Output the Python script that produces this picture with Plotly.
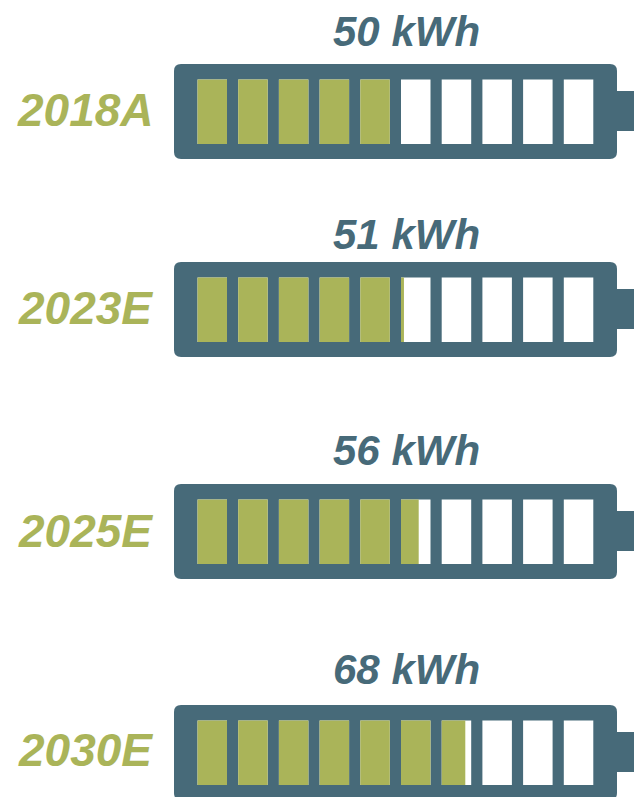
import plotly.graph_objects as go

# ---- data ----
years = ["2018A", "2023E", "2025E", "2030E"]
capacity_kwh = [50, 51, 56, 68]
capacity_labels = [f"{v} kWh" for v in capacity_kwh]
kwh_per_cell = 10
n_cells = 10

# ---- layout / style ----
W, H = 634, 797
body_color = "#476A79"
fill_color = "#AAB459"
year_color = "#AAB459"
label_color = "#476A79"

battery_tops = [64, 262, 484, 705]
label_gaps = [33, 28, 34, 36]      # distance of the kWh label above each battery
year_offsets = [46, 46, 47, 45]    # year label centre below the battery top
body_left, body_right, body_h, radius = 174, 617, 95, 7
cell_x0, cell_pitch, cell_w = 197.5, 40.7, 29.5
cell_top_off, cell_h = 15.5, 64.5
term_x1, term_top_off, term_h = 640, 27, 40

fig = go.Figure()
shapes = []
annotations = []

white_y, white_base, white_len = [], [], []
fill_y, fill_base, fill_len = [], [], []

for top, gap, yoff, yr, lab, val in zip(battery_tops, label_gaps, year_offsets,
                                        years, capacity_labels, capacity_kwh):
    bottom = top + body_h
    r = radius
    path = (f"M {body_left + r},{top} L {body_right - r},{top} "
            f"Q {body_right},{top} {body_right},{top + r} "
            f"L {body_right},{bottom - r} Q {body_right},{bottom} {body_right - r},{bottom} "
            f"L {body_left + r},{bottom} Q {body_left},{bottom} {body_left},{bottom - r} "
            f"L {body_left},{top + r} Q {body_left},{top} {body_left + r},{top} Z")
    shapes.append(dict(type="path", path=path, xref="x", yref="y",
                       fillcolor=body_color, line=dict(width=0), layer="below"))
    shapes.append(dict(type="rect", xref="x", yref="y",
                       x0=body_right - 2, x1=term_x1,
                       y0=top + term_top_off, y1=top + term_top_off + term_h,
                       fillcolor=body_color, line=dict(width=0), layer="below"))
    cy = top + cell_top_off + cell_h / 2
    filled = val / kwh_per_cell
    for i in range(n_cells):
        x0 = cell_x0 + i * cell_pitch
        white_y.append(cy); white_base.append(x0); white_len.append(cell_w)
        frac = max(0.0, min(1.0, filled - i))
        if frac > 0:
            fill_y.append(cy); fill_base.append(x0); fill_len.append(frac * cell_w)
    annotations.append(dict(x=406, y=top - gap, xref="x", yref="y", text=lab,
                            showarrow=False, xanchor="center", yanchor="middle",
                            font=dict(family="Liberation Sans, Arial", size=42,
                                      color=label_color, weight="bold", style="italic")))
    annotations.append(dict(x=85, y=top + yoff, xref="x", yref="y", text=yr,
                            showarrow=False, xanchor="center", yanchor="middle",
                            font=dict(family="Liberation Sans, Arial", size=46,
                                      color=year_color, weight="bold", style="italic")))

fig.add_trace(go.Bar(orientation="h", y=white_y, base=white_base, x=white_len,
                     width=cell_h, marker=dict(color="white", line=dict(width=0)),
                     hoverinfo="skip", showlegend=False))
fig.add_trace(go.Bar(orientation="h", y=fill_y, base=fill_base, x=fill_len,
                     width=cell_h, marker=dict(color=fill_color, line=dict(width=0)),
                     hoverinfo="skip", showlegend=False))

fig.update_layout(
    width=W, height=H, margin=dict(l=0, r=0, t=0, b=0),
    paper_bgcolor="white", plot_bgcolor="white",
    barmode="overlay", shapes=shapes, annotations=annotations,
    xaxis=dict(range=[0, W], visible=False, fixedrange=True),
    yaxis=dict(range=[H, 0], visible=False, fixedrange=True),
)
fig.write_html("out.html", config={"displayModeBar": False},
               post_script="document.body.style.margin='0';"
                           "document.body.style.overflow='hidden';")
